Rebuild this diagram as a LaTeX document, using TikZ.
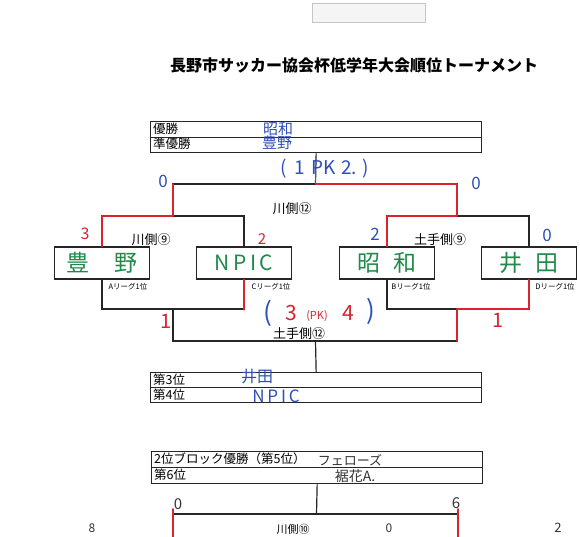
\documentclass[tikz,border=0pt]{standalone}
\usepackage{fontspec}
\setmainfont{Noto Sans CJK JP}
\definecolor{pblue}{HTML}{2F4FB8}
\definecolor{pred}{HTML}{D9232F}
\definecolor{pgreen}{HTML}{1F8A4A}
\definecolor{pdark}{HTML}{333333}
\newcommand{\myfs}[1]{\fontsize{#1}{#1}\selectfont}
\tikzset{
 ln/.style={line width=1.2pt,draw=black!85},
 redln/.style={line width=1.8pt,draw=pred,line cap=round,line join=round},
 tbl/.style={draw=black!85,line width=1.3pt,anchor=north west,inner sep=0pt,minimum width=331pt},
 team/.style={draw=black!85,line width=1.3pt,inner sep=0pt,minimum width=95pt,minimum height=32pt,text=pgreen,font=\myfs{23}},
 lbl/.style={inner sep=0pt,font=\myfs{13}},
 lg/.style={inner sep=0pt,font=\myfs{7.5}},
 rowtxt/.style={inner sep=0pt,anchor=west,font=\myfs{12.5}},
 hb/.style={inner sep=0pt,text=pblue},
 hr/.style={inner sep=0pt,text=pred},
 hk/.style={inner sep=0pt,text=pdark},
}
\begin{document}
\begin{tikzpicture}[x=1pt,y=-1pt]
\useasboundingbox (0,0) rectangle (580,536);
\fill[white] (0,0) rectangle (580,536);
\begin{scope}
\clip (0,0) rectangle (580,536);
% tape
\node[draw=gray!45,fill=gray!8,line width=0.8pt,minimum width=113pt,minimum height=19pt,inner sep=0pt] (tape) at (369,13) {};
% title
\node[inner sep=0pt,font=\myfs{16}\bfseries] (title) at (354,65) {長野市サッカー協会杯低学年大会順位トーナメント};
% tables
\node[tbl,minimum height=31pt] (T1) at (150,121) {};
\draw[ln] (T1.west) -- (T1.east);
\node[rowtxt] (r1) at (153,128.5) {優勝};
\node[rowtxt] (r2) at (153,144) {準優勝};
\node[tbl,minimum height=30pt] (T2) at (150,372) {};
\draw[ln] (T2.west) -- (T2.east);
\node[rowtxt] (r3) at (153,379.5) {第3位};
\node[rowtxt] (r4) at (153,394.5) {第4位};
\node[tbl,minimum height=32pt] (T3) at (151,451) {};
\draw[ln] (T3.west) -- (T3.east);
\node[rowtxt] (r5) at (154,459) {2位ブロック優勝（第5位）};
\node[rowtxt] (r6) at (154,475) {第6位};
% teams
\node[team] (t1) at (102,263) {豊\hspace{1.1em}野};
\node[team] (t2) at (244,263) {\myfs{21}N\,P\,I\,C};
\node[team] (t3) at (387,263) {昭\hspace{0.6em}和};
\node[team] (t4) at (529,263) {井\hspace{0.6em}田};
\node[lg] (a1) at (128,287) {Aリーグ1位};
\node[lg] (a2) at (271,287) {Cリーグ1位};
\node[lg] (a3) at (411,287) {Bリーグ1位};
\node[lg] (a4) at (555,287) {Dリーグ1位};
% coordinates
\coordinate (sL) at (173,216);
\coordinate (sR) at (457,216);
\coordinate (bL) at (173,309);
\coordinate (bR) at (457,309);
\coordinate (fL) at (173,184);
\coordinate (fR) at (457,184);
\coordinate (fC) at (315.5,184);
\coordinate (tL) at (173,341);
\coordinate (tR) at (457,341);
\coordinate (tC) at (315.5,341);
\coordinate (gL) at (173,514);
\coordinate (gR) at (458,514);
\coordinate (gC) at (316.5,514);
\coordinate (eL) at (173,540);
\coordinate (eR) at (458,540);
% brackets
\draw[ln] (t1.north) |- (sL) -| (t2.north);
\draw[ln] (t3.north) |- (sR) -| (t4.north);
\draw[ln] (t1.south) |- (bL) -| (t2.south);
\draw[ln] (t3.south) |- (bR) -| (t4.south);
\draw[ln] (sL) -- (fL) -- (fR) -- (sR);
\draw[ln] (T1.south) -- (fC);
\draw[ln] (bL) -- (tL) -- (tR) -- (bR);
\draw[ln] (tC) -- (T2.north);
\draw[ln] (T3.south) -- (gC);
\draw[ln] (eL) -- (gL) -- (gR) -- (eR);
% labels
\node[lbl] (m1) at (292,209) {川側⑫};
\node[lbl] (m2) at (151,240) {川側⑨};
\node[lbl] (m3) at (440,240) {土手側⑨};
\node[lbl] (m4) at (299,334) {土手側⑫};
\node[lbl,font=\myfs{11}] (m5) at (293,529) {川側⑩};
% red winner paths
\draw[redln] (t1.north) |- (sL) -- (fL);
\draw[redln] (315.5,166) -- (fC) -- (fR) -- (sR) -| (t3.north);
\draw[redln] (t2.south) -- ++(0,30);
\draw[redln] (t4.south) |- (bR) -- (tR);
\draw[redln] (173,509) -- (eL);
\draw[redln] (458,509) -- (eR);
% handwriting blue
\node[hb,font=\myfs{15}] (w1) at (278,129) {昭和};
\node[hb,font=\myfs{15}] (w2) at (277,143) {豊野};
\node[hb,font=\myfs{19}] (w3) at (325,169) {(\hspace{0.4em}1\hspace{0.3em}PK\hspace{0.3em}2.\hspace{0.3em})};
\node[hb,font=\myfs{17}] (s1) at (163,181) {0};
\node[hb,font=\myfs{17}] (s2) at (476,183) {0};
\node[hb,font=\myfs{17}] (s3) at (375,234) {2};
\node[hb,font=\myfs{17}] (s4) at (547,235) {0};
\node[hb,font=\myfs{16}] (w4) at (257,377) {井田};
\node[hb,font=\myfs{17}] (w5) at (276,396) {N\,P\,I\,C};
% handwriting red
\node[hr,font=\myfs{16}] (s5) at (85,234) {3};
\node[hr,font=\myfs{15}] (s6) at (262,239) {2};
\node[hr,font=\myfs{20}] (s7) at (166,321) {1};
\node[hr,font=\myfs{20}] (s8) at (498,320) {1};
\node[hb,font=\myfs{26}] (p1) at (268,313) {(};
\node[hr,font=\myfs{21}] (p2) at (291,313) {3};
\node[hr,font=\myfs{11}] (p3) at (317,316) {(PK)};
\node[hr,font=\myfs{21}] (p4) at (348,313) {4};
\node[hb,font=\myfs{26}] (p5) at (371,311) {)};
% handwriting dark
\node[hk,font=\myfs{13}] (w6) at (350,460) {フェローズ};
\node[hk,font=\myfs{14}] (w7) at (355,476) {裾花A.};
\node[hk,font=\myfs{15}] (s9) at (178,504) {0};
\node[hk,font=\myfs{15}] (s10) at (456,503) {6};
\node[hk,font=\myfs{12}] (s11) at (92,528) {8};
\node[hk,font=\myfs{12}] (s12) at (389,528) {0};
\node[hk,font=\myfs{13}] (s13) at (558,528) {2};
\end{scope}
\end{tikzpicture}
\end{document}
